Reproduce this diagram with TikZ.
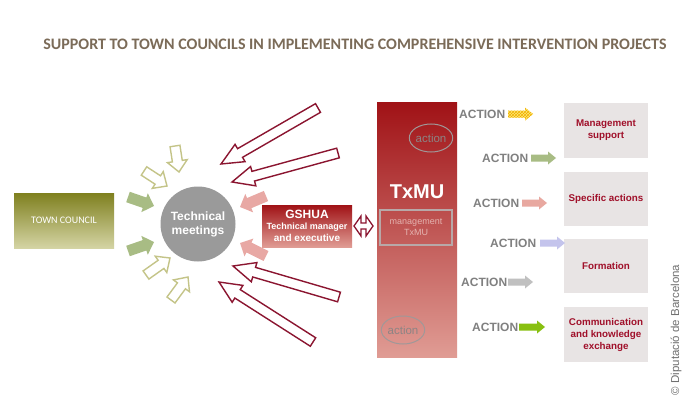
\documentclass[tikz,border=0pt]{standalone}
\usepackage{fontspec}
\setmainfont{Liberation Sans}
\newfontfamily\carlito{Carlito}
\usetikzlibrary{calc,patterns,shapes.geometric}
\definecolor{titlec}{HTML}{7B6B58}
\definecolor{dred}{HTML}{8B1530}
\definecolor{olivec}{HTML}{C4C488}
\definecolor{greenc}{HTML}{A8BC84}
\definecolor{pinkc}{HTML}{E8A8A4}
\definecolor{circc}{HTML}{9A9A9A}
\definecolor{tctop}{HTML}{7F801F}
\definecolor{tcbot}{HTML}{D4D4A4}
\definecolor{redtop}{HTML}{A01216}
\definecolor{redbot}{HTML}{E09C94}
\definecolor{actc}{HTML}{808080}
\definecolor{boxc}{HTML}{E8E4E4}
\definecolor{boxtxt}{HTML}{A0102A}
\definecolor{elc}{HTML}{A09898}
\definecolor{eltxt}{HTML}{8C8484}
\definecolor{mgc}{HTML}{B8A8A8}
\definecolor{mgtxt}{HTML}{E4B4B0}
\definecolor{yelc}{HTML}{FFE878}
\definecolor{yelp}{HTML}{F0B000}
\definecolor{a2c}{HTML}{A8BC84}
\definecolor{a3c}{HTML}{E8A8A0}
\definecolor{a4c}{HTML}{C4C4EC}
\definecolor{a5c}{HTML}{C0C0C0}
\definecolor{a6c}{HTML}{88C010}
\definecolor{copyc}{HTML}{707070}
% block arrow: #1 tail, #2 tip, #3 shaft half width, #4 head half width, #5 head length, #6 style
\newcommand\blockarr[6]{%
  \coordinate (ba-q) at ($(#2)!#5!(#1)$);
  \path[#6] ($(#1)!#3!90:(#2)$) -- ($(ba-q)!#3!90:(#2)$) -- ($(ba-q)!#4!90:(#2)$) -- (#2)
    -- ($(ba-q)!#4!-90:(#2)$) -- ($(ba-q)!#3!-90:(#2)$) -- ($(#1)!#3!-90:(#2)$) -- cycle;}
\tikzset{
  bigout/.style={draw=dred, line width=1.4pt, fill=white, line join=miter},
  oliveout/.style={draw=olivec, line width=1.4pt, fill=white, line join=miter},
  actlbl/.style={text=actc, font=\bfseries\fontsize{12}{14}\selectfont, anchor=west, inner sep=0pt},
  rbox/.style={fill=boxc, minimum width=84pt, text=boxtxt, align=center,
    font=\bfseries\fontsize{9.8}{12}\selectfont},
  actel/.style={ellipse, draw=elc, line width=1pt, minimum width=40pt, minimum height=28pt,
    text=eltxt, font=\fontsize{11.5}{13}\selectfont, inner sep=0pt},
}
\begin{document}
\begin{tikzpicture}[x=1pt,y=-1pt]
\useasboundingbox (0,0) rectangle (683,412);
\fill[white] (0,0) rectangle (683,412);

\node[font=\carlito\bfseries\fontsize{16}{18}\selectfont, text=titlec] (title) at (355,44)
  {SUPPORT TO TOWN COUNCILS IN IMPLEMENTING COMPREHENSIVE INTERVENTION PROJECTS};

% town council
\node[top color=tctop, bottom color=tcbot, minimum width=100pt, minimum height=55pt,
  text=white, font=\carlito\fontsize{10}{12}\selectfont] (tc) at (64,220.5) {TOWN COUNCIL};

% technical meetings
\node[circle, fill=circc, minimum size=75pt, text=white, align=center,
  font=\bfseries\fontsize{12}{14}\selectfont] (tm) at (198,224) {Technical\\meetings};

% coordinates of arrows
\coordinate (r1a) at (318,108); \coordinate (r1b) at (221,164);
\coordinate (r2a) at (338,153); \coordinate (r2b) at (232,182);
\coordinate (r3a) at (339,297); \coordinate (r3b) at (233,266);
\coordinate (r4a) at (313,342); \coordinate (r4b) at (219,282);
\coordinate (o1a) at (144,171); \coordinate (o1b) at (167,186);
\coordinate (o2a) at (175,146); \coordinate (o2b) at (179,172);
\coordinate (o3a) at (146,275); \coordinate (o3b) at (170,258);
\coordinate (o4a) at (171,300); \coordinate (o4b) at (188,277);
\coordinate (g1a) at (128,197); \coordinate (g1b) at (154,206);
\coordinate (g2a) at (128,251); \coordinate (g2b) at (154,242);
\coordinate (p1a) at (266,196); \coordinate (p1b) at (240,207);
\coordinate (p2a) at (266,256); \coordinate (p2b) at (240,243);

\blockarr{r1a}{r1b}{5pt}{10pt}{22pt}{bigout}
\blockarr{r2a}{r2b}{5pt}{10pt}{22pt}{bigout}
\blockarr{r3a}{r3b}{5pt}{10pt}{22pt}{bigout}
\blockarr{r4a}{r4b}{5pt}{10pt}{22pt}{bigout}
\blockarr{o1a}{o1b}{5pt}{10pt}{11pt}{oliveout}
\blockarr{o2a}{o2b}{5pt}{10pt}{11pt}{oliveout}
\blockarr{o3a}{o3b}{5pt}{10pt}{11pt}{oliveout}
\blockarr{o4a}{o4b}{5pt}{10pt}{11pt}{oliveout}
\blockarr{g1a}{g1b}{5.5pt}{10pt}{10pt}{fill=greenc}
\blockarr{g2a}{g2b}{5.5pt}{10pt}{10pt}{fill=greenc}
\blockarr{p1a}{p1b}{5.5pt}{10pt}{10pt}{fill=pinkc}
\blockarr{p2a}{p2b}{5.5pt}{10pt}{10pt}{fill=pinkc}

% GSHUA
\node[top color=redtop, bottom color=redbot, minimum width=90pt, minimum height=42pt,
  text=white, align=center, inner sep=0pt, font=\bfseries] (gs) at (307,226)
  {\fontsize{12}{12}\selectfont GSHUA\\[-1pt]\fontsize{9}{11}\selectfont Technical manager\\and executive};

% double arrow
\draw[dred, line width=1.3pt, fill=white, line join=miter]
  (354,226) -- (361,216) -- (361,223) -- (366,223) -- (366,216) -- (373,226)
  -- (366,236) -- (366,229) -- (361,229) -- (361,236) -- cycle;

% TxMU column
\node[top color=redtop, bottom color=redbot, minimum width=80pt, minimum height=255pt] (tx) at (417,229.5) {};
\node[text=white, font=\bfseries\fontsize{20}{22}\selectfont] (txl) at (417,192) {TxMU};
\node[draw=mgc, line width=1.5pt, minimum width=72pt, minimum height=35pt, align=center,
  text=mgtxt, font=\fontsize{9}{11}\selectfont] (mg) at (416,227.5) {management\\TxMU};
\node[actel] (e1) at (431,138) {action};
\node[actel] (e2) at (403,330) {action};

% right boxes
\node[rbox, minimum height=55pt] (b1) at (606,130.5) {Management\\support};
\node[rbox, minimum height=54pt] (b2) at (606,199) {Specific actions};
\node[rbox, minimum height=54pt] (b3) at (606,266) {Formation};
\node[rbox, minimum height=55pt] (b4) at (606,334.5) {Communication\\and knowledge\\exchange};

% actions
\node[actlbl] (t1) at (459,114) {ACTION};
\node[actlbl] (t2) at (482,158) {ACTION};
\node[actlbl] (t3) at (473,203) {ACTION};
\node[actlbl] (t4) at (490,243) {ACTION};
\node[actlbl] (t5) at (461,282) {ACTION};
\node[actlbl] (t6) at (472,327) {ACTION};
\coordinate (a1a) at (508,114); \coordinate (a1b) at (533,114);
\coordinate (a2a) at (531,158); \coordinate (a2b) at (556,158);
\coordinate (a3a) at (522,203); \coordinate (a3b) at (547,203);
\coordinate (a4a) at (540,243); \coordinate (a4b) at (565,243);
\coordinate (a5a) at (508,282); \coordinate (a5b) at (533,282);
\coordinate (a6a) at (519,327); \coordinate (a6b) at (545,327);
\blockarr{a1a}{a1b}{3.5pt}{6.5pt}{8pt}{fill=yelc}
\blockarr{a1a}{a1b}{3.5pt}{6.5pt}{8pt}{pattern=crosshatch, pattern color=yelp}
\blockarr{a2a}{a2b}{3.5pt}{6.5pt}{8pt}{fill=a2c}
\blockarr{a3a}{a3b}{3.5pt}{6.5pt}{8pt}{fill=a3c}
\blockarr{a4a}{a4b}{3.5pt}{6.5pt}{8pt}{fill=a4c}
\blockarr{a5a}{a5b}{3.5pt}{6.5pt}{8pt}{fill=a5c}
\blockarr{a6a}{a6b}{3.5pt}{6.5pt}{8pt}{fill=a6c}

% copyright
\node[rotate=90, text=copyc, font=\fontsize{11.5}{14}\selectfont] (copy) at (676,330) {© Diputació de Barcelona};
\end{tikzpicture}
\end{document}
